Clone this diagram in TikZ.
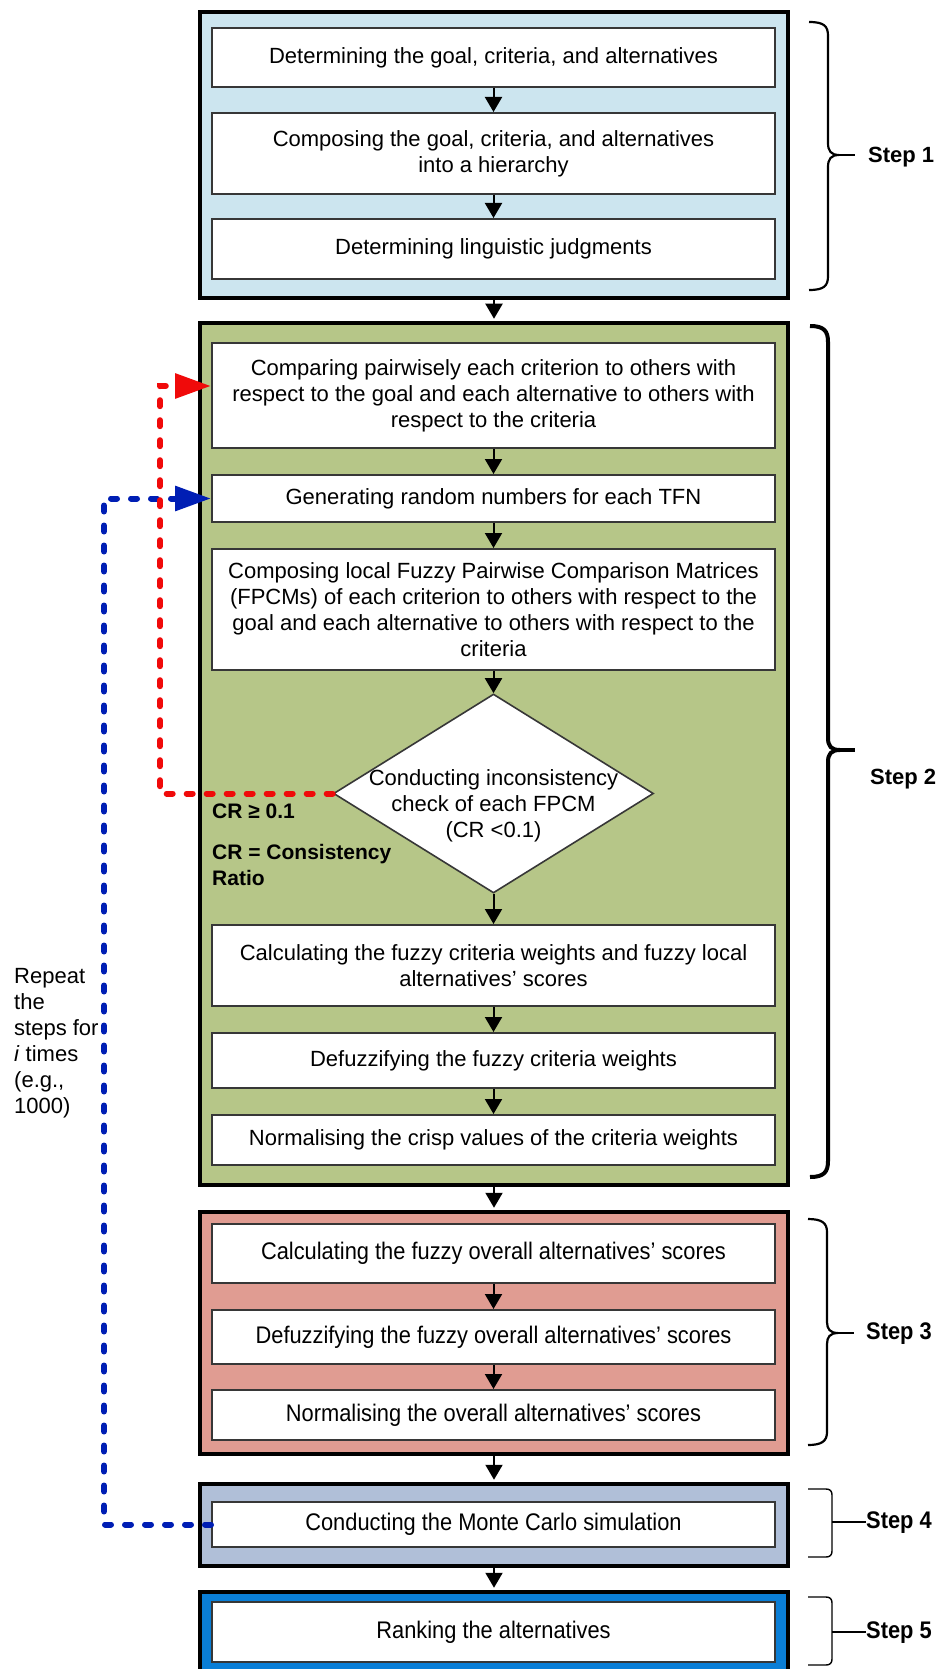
\documentclass[tikz,border=0pt]{standalone}
\usepackage{fontspec}
\setmainfont{Liberation Sans}
\newfontfamily\narrowfont[FakeStretch=0.91]{Liberation Sans}
\usetikzlibrary{arrows.meta,shapes.geometric}
\newcommand\bxfont{\fontsize{22}{26}\selectfont}
\newcommand\nbxfont{\narrowfont\fontsize{24}{28}\selectfont}
\definecolor{sonefill}{RGB}{204,229,239}
\definecolor{stwofill}{RGB}{182,198,136}
\definecolor{sthreefill}{RGB}{224,156,146}
\definecolor{sfourfill}{RGB}{176,191,216}
\definecolor{sfivefill}{RGB}{10,126,214}
\definecolor{boxgray}{RGB}{55,55,55}
\definecolor{loopred}{RGB}{240,10,10}
\definecolor{loopblue}{RGB}{0,30,180}
\begin{document}
\begin{tikzpicture}[x=1pt,y=-1pt,
  outerbox/.style={draw=black, line width=4.5pt, minimum width=588pt, inner sep=0pt},
  stepbox/.style={draw=boxgray, line width=2pt, fill=white, minimum width=563pt, inner sep=0pt, align=center, font=\bxfont},
  nstepbox/.style={stepbox, font=\nbxfont},
  flow/.style={-{Triangle[width=17pt,length=15pt]}, line width=2pt, draw=black},
  redloop/.style={draw=loopred, line width=6pt, dash pattern=on 6pt off 14pt, line cap=round, -{Triangle[width=24pt,length=36pt,fill=loopred]}},
  blueloop/.style={draw=loopblue, line width=6pt, dash pattern=on 6pt off 14pt, line cap=round, -{Triangle[width=24pt,length=36pt,fill=loopblue]}},
  bracethin/.style={draw=black, line width=2.2pt},
  bracethick/.style={draw=black, line width=4pt},
  bracketthin/.style={draw=black, line width=1.4pt},
  steplabel/.style={anchor=west, inner sep=0pt, font=\fontsize{22}{26}\selectfont\bfseries},
  nsteplabel/.style={anchor=west, inner sep=0pt, font=\narrowfont\fontsize{24}{28}\selectfont\bfseries},
  sidetext/.style={anchor=north west, inner sep=0pt, align=left, font=\fontsize{22}{26}\selectfont},
  crtext/.style={anchor=north west, inner sep=0pt, align=left, font=\fontsize{21}{26}\selectfont\bfseries}
]
\useasboundingbox (0,0) rectangle (938,1669);
\clip (0,0) rectangle (938,1669);

% ---------- outer step boxes ----------
\node[outerbox, fill=sonefill, minimum height=286pt] (s1) at (494,155) {};
\node[outerbox, fill=stwofill, minimum height=862pt] (s2) at (494,754) {};
\node[outerbox, fill=sthreefill, minimum height=242pt] (s3) at (494,1333) {};
\node[outerbox, fill=sfourfill, minimum height=82pt] (s4) at (494,1525) {};
\node[outerbox, fill=sfivefill, minimum height=98pt] (s5) at (494,1641) {};

% ---------- Step 1 ----------
\node[stepbox, minimum height=59pt] (b11) at (493.5,57.5) {Determining the goal, criteria, and alternatives};
\node[stepbox, minimum height=81pt] (b12) at (493.5,153.5) {Composing the goal, criteria, and alternatives\\into a hierarchy};
\node[stepbox, minimum height=60pt] (b13) at (493.5,249) {Determining linguistic judgments};

% ---------- Step 2 ----------
\node[stepbox, minimum height=105pt] (b21) at (493.5,395.5) {Comparing pairwisely each criterion to others with\\respect to the goal and each alternative to others with\\respect to the criteria};
\node[stepbox, minimum height=47pt] (b22) at (493.5,498.5) {Generating random numbers for each TFN};
\node[stepbox, minimum height=121pt] (b23) at (493.5,609.5) {Composing local Fuzzy Pairwise Comparison Matrices\\(FPCMs) of each criterion to others with respect to the\\goal and each alternative to others with respect to the\\criteria};
\node[diamond, draw=boxgray, line width=1.6pt, fill=white, minimum width=320pt, minimum height=199pt, inner sep=0pt] (dia) at (493.5,793.5) {};
\node[align=center, inner sep=0pt, font=\bxfont] (diatext) at (493.5,806) {Conducting inconsistency\\check of each FPCM\\(CR <0.1)};
\node[stepbox, minimum height=81pt] (b24) at (493.5,965.5) {Calculating the fuzzy criteria weights and fuzzy local\\alternatives’ scores};
\node[stepbox, minimum height=55pt] (b25) at (493.5,1060.5) {Defuzzifying the fuzzy criteria weights};
\node[stepbox, minimum height=50pt] (b26) at (493.5,1140) {Normalising the crisp values of the criteria weights};

\node[crtext] (crge) at (212,804) {CR ≥ 0.1};
\node[crtext] (crdef) at (212,844) {CR = Consistency\\Ratio};

% ---------- Step 3 ----------
\node[nstepbox, minimum height=59pt] (b31) at (493.5,1253.5) {Calculating the fuzzy overall alternatives’ scores};
\node[nstepbox, minimum height=54pt] (b32) at (493.5,1337) {Defuzzifying the fuzzy overall alternatives’ scores};
\node[nstepbox, minimum height=50pt] (b33) at (493.5,1415) {Normalising the overall alternatives’ scores};

% ---------- Step 4 / 5 ----------
\node[nstepbox, minimum height=45pt] (b41) at (493.5,1524.5) {Conducting the Monte Carlo simulation};
\node[nstepbox, minimum height=60pt] (b51) at (493.5,1632) {Ranking the alternatives};

% ---------- flow arrows ----------
\draw[flow] (b11.south) -- (b12.north);
\draw[flow] (b12.south) -- (b13.north);
\draw[flow] (s1.south) -- ([yshift=2pt]s2.north);
\draw[flow] (b21.south) -- (b22.north);
\draw[flow] (b22.south) -- (b23.north);
\draw[flow] (b23.south) -- (dia.north);
\draw[flow] (dia.south) -- (b24.north);
\draw[flow] (b24.south) -- (b25.north);
\draw[flow] (b25.south) -- (b26.north);
\draw[flow] (s2.south) -- ([yshift=2pt]s3.north);
\draw[flow] (b31.south) -- (b32.north);
\draw[flow] (b32.south) -- (b33.north);
\draw[flow] (s3.south) -- ([yshift=2pt]s4.north);
\draw[flow] (s4.south) -- ([yshift=2pt]s5.north);

% ---------- feedback loops ----------
\coordinate (rv) at (160,0);
\coordinate (bv) at (104,0);
\draw[blueloop] (b41.west) -- (b41.west -| bv) |- (b22.west);
\draw[redloop] (dia.west) -- (dia.west -| rv) |- ([yshift=9.5pt]b21.west);

\node[sidetext] (rep) at (14,968) {Repeat\\the\\steps for\\\textit{i} times\\(e.g.,\\1000)};

% ---------- braces ----------
\draw[bracethin] (809,22) .. controls (824,22) and (828,26) .. (828,36) -- (828,143)
  .. controls (828,151) and (831,155) .. (839,155)
  .. controls (831,155) and (828,159) .. (828,167) -- (828,276)
  .. controls (828,286) and (824,290) .. (809,290);
\draw[bracethin] (839,155) -- (855,155);
\node[steplabel] (l1) at (868,157) {Step 1};

\draw[bracethick] (810,326) .. controls (824,326) and (828,331) .. (828,342) -- (828,738)
  .. controls (828,746) and (831,750) .. (840,750)
  .. controls (831,750) and (828,754) .. (828,762) -- (828,1161)
  .. controls (828,1172) and (824,1177) .. (810,1177);
\draw[bracethick] (840,750) -- (855,750);
\node[steplabel] (l2) at (870,779) {Step 2};

\draw[bracethin] (808,1219) .. controls (822,1219) and (827,1223) .. (827,1232) -- (827,1322)
  .. controls (827,1329) and (830,1333) .. (838,1333)
  .. controls (830,1333) and (827,1337) .. (827,1344) -- (827,1432)
  .. controls (827,1441) and (822,1445) .. (808,1445);
\draw[bracethin] (838,1333) -- (854,1333);
\node[nsteplabel] (l3) at (866,1334) {Step 3};

\draw[bracketthin] (808,1489) -- (826,1489) .. controls (830,1489) and (832,1491) .. (832,1495) -- (832,1551) .. controls (832,1555) and (830,1557) .. (826,1557) -- (808,1557);
\draw[bracketthin] (832,1522) -- (866,1522);
\node[nsteplabel] (l4) at (866,1523) {Step 4};

\draw[bracketthin] (808,1597) -- (826,1597) .. controls (830,1597) and (832,1599) .. (832,1603) -- (832,1659) .. controls (832,1663) and (830,1665) .. (826,1665) -- (808,1665);
\draw[bracketthin] (832,1632) -- (866,1632);
\node[nsteplabel] (l5) at (866,1633) {Step 5};
\end{tikzpicture}
\end{document}
